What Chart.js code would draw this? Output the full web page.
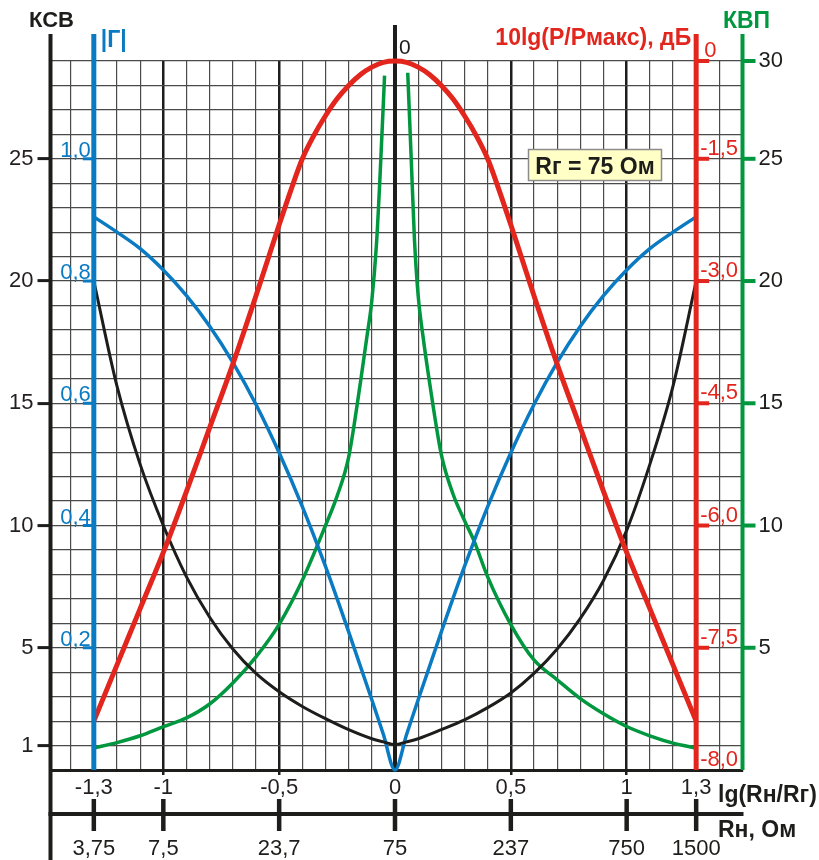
<!DOCTYPE html>
<html><head><meta charset="utf-8">
<style>html,body{margin:0;padding:0;background:#fff}canvas{display:block}</style>
<script src="https://cdn.jsdelivr.net/npm/chart.js@4.4.1/dist/chart.umd.min.js"></script>
</head><body>
<canvas id="c" width="819" height="860"></canvas>
<script>
// ---------------- data ----------------
const lgX = [-1.3,-1.2,-1.1,-1.0,-0.9,-0.8,-0.7,-0.6,-0.5,-0.4,-0.3,-0.2,-0.1,-0.05,0,0.05,0.1,0.2,0.3,0.4,0.5,0.6,0.7,0.8,0.9,1.0,1.1,1.2,1.3];
const kcbValues = [20,15.7,12.5,10.0,7.9,6.25,4.95,3.95,3.2,2.6,2.1,1.65,1.28,1.15,1.04,1.15,1.28,1.65,2.05,2.55,3.15,3.95,4.95,6.2,7.75,9.8,12.5,15.7,20];
const gammaValues = [0.905,0.880,0.853,0.818,0.776,0.726,0.667,0.598,0.519,0.431,0.333,0.226,0.115,0.058,0,0.058,0.115,0.226,0.333,0.431,0.519,0.598,0.667,0.726,0.776,0.818,0.853,0.880,0.905];
const dbX = [-1.3,-1.2,-1.1,-1.0,-0.9,-0.8,-0.7,-0.6,-0.5,-0.45,-0.4,-0.35,-0.3,-0.25,-0.2,-0.15,-0.1,-0.05,0,0.05,0.1,0.15,0.2,0.25,0.3,0.35,0.4,0.45,0.5,0.6,0.7,0.8,0.9,1.0,1.1,1.2,1.3];
const dbValues = [-7.8,-7.57,-7.02,-6.33,-5.58,-4.8,-4.02,-3.18,-2.31,-1.89,-1.5,-1.14,-0.84,-0.58,-0.375,-0.21,-0.094,-0.02,0,-0.02,-0.094,-0.21,-0.375,-0.58,-0.84,-1.14,-1.5,-1.89,-2.31,-3.18,-4.02,-4.8,-5.58,-6.33,-7.02,-7.57,-7.8];
const kvpLeftX = [-1.3,-1.2,-1.1,-1.0,-0.9,-0.8,-0.7,-0.6,-0.5,-0.4,-0.3,-0.25,-0.2,-0.15,-0.12,-0.1,-0.08,-0.065,-0.045];
const kvpLeftY = [0.9,1.12,1.4,1.77,2.13,2.7,3.56,4.63,5.96,7.76,10.0,11.2,12.8,15.8,17.8,19.2,21.5,24.2,29.25];
const kvpRightX = [0.055,0.07,0.084,0.1,0.12,0.15,0.2,0.25,0.3,0.34,0.4,0.5,0.6,0.7,0.8,0.9,1.0,1.1,1.2,1.3];
const kvpRightY = [29.4,25.0,21.7,19.4,17.8,15.8,12.9,11.3,10.2,9.4,7.9,5.95,4.5,3.69,2.92,2.3,1.78,1.4,1.1,0.9];

// ---------------- ticks ----------------
const xTickValues = [-1.3,-1,-0.5,0,0.5,1,1.3];
const xTickLabels = ['-1,3','-1','-0,5','0','0,5','1','1,3'];
const rTickLabels = ['3,75','7,5','23,7','75','237','750','1500'];
const kcbTickValues = [1,5,10,15,20,25];
const gammaTickValues = [0.2,0.4,0.6,0.8,1.0];
const gammaTickLabels = ['0,2','0,4','0,6','0,8','1,0'];
const dbTickValues = [0,-1.5,-3,-4.5,-6,-7.5,-8];
const dbTickLabels = ['0','-1,5','-3,0','-4,5','-6,0','-7,5','-8,0'];
const dbTickAt = [29,25,20,15,10,5,0];          // calibration of the non-linear dB axis (grid units)
const kvpTickValues = [5,10,15,20,25,30];
const kvpTickLabels = ['5','10','15','20','25','30'];
const kvpStopValues = [0,5,10,15,20,25,30];
const kvpStopAt = [0,5,10,15,20,25,29];          // calibration of the КВП axis (grid units)

const FONT = "'Liberation Sans', Arial, sans-serif";
const BLACK = '#1d1d1b', BLUE = '#0a7bc2', RED = '#e3261d', GREEN = '#00973f', GRID = '#4a4a4a';

const PIECEWISE = {
  yDb: [dbTickValues.slice().reverse(), dbTickAt.slice().reverse()],
  yK: [kvpStopValues, kvpStopAt]
};
function interp(v, xs, ys) {
  let i = 0;
  while (i < xs.length - 2 && v > xs[i + 1]) i++;
  const t = (v - xs[i]) / (xs[i + 1] - xs[i]);
  return ys[i] + t * (ys[i + 1] - ys[i]);
}
class PiecewiseScale extends Chart.LinearScale {
  static id = 'piecewise';
  determineDataLimits() { this.min = this.options.min; this.max = this.options.max; }
  buildTicks() { return []; }
  getPixelForValue(v) {
    if (v === null || v === undefined) return NaN;
    const s = PIECEWISE[this.id];
    return super.getPixelForValue(interp(v, s[0], s[1]));
  }
  getValueForPixel(p) {
    const s = PIECEWISE[this.id];
    return interp(super.getValueForPixel(p), s[1], s[0]);
  }
}
Chart.register(PiecewiseScale);

function near(a, b) { return Math.abs(a - b) < 1e-6; }
function idxOf(arr, v) { return arr.findIndex(a => near(a, v)); }
const gridX = []; for (let i = -14; i <= 15; i++) gridX.push(i / 10);
const gridY = []; for (let i = 0; i <= 29; i++) gridY.push(i);
function isMajorX(v) { return near(v * 2, Math.round(v * 2)) && Math.abs(v) < 1.4 && !near(v, 0); }

function pts(xs, ys) { return xs.map((x, i) => ({x, y: ys[i]})); }

function line(ctx, x1, y1, x2, y2, w, c) {
  ctx.beginPath(); ctx.moveTo(x1, y1); ctx.lineTo(x2, y2);
  ctx.lineWidth = w; ctx.strokeStyle = c; ctx.lineCap = 'butt'; ctx.stroke();
}
function txt(ctx, s, x, y, font, color, align, base) {
  ctx.font = font; ctx.fillStyle = color; ctx.textAlign = align || 'left';
  ctx.textBaseline = base || 'alphabetic'; ctx.fillText(s, x, y);
}

const deco = {
  id: 'deco',
  beforeDatasetsDraw(chart) {
    const {ctx, scales: {x, y}} = chart;
    ctx.save();
    const cx = x.getPixelForValue(0);
    line(ctx, cx, 25, cx, y.getPixelForValue(0), 4, BLACK);
    ctx.restore();
  },
  afterDraw(chart) {
    const {ctx, chartArea, scales: {x, y, yG, yDb, yK}} = chart;
    ctx.save();
    const bottom = y.getPixelForValue(0);
    const top = 34;
    const xL = chartArea.left, xB = x.getPixelForValue(-1.3);
    const xRd = x.getPixelForValue(1.3), xGr = x.getPixelForValue(1.5);
    const num = '22px ' + FONT, bold = 'bold 23px ' + FONT;

    // axis lines
    line(ctx, xL, top, xL, 860, 4, BLACK);
    line(ctx, xB, top, xB, bottom, 5, BLUE);
    line(ctx, xRd, top, xRd, bottom, 5, RED);
    line(ctx, xGr, top, xGr, bottom, 4, GREEN);

    // |Г| axis
    gammaTickValues.forEach((v, i) => {
      const py = yG.getPixelForValue(v);
      line(ctx, xB - 11, py, xB, py, 3, BLUE);
      txt(ctx, gammaTickLabels[i], xB - 3, py - 2, num, BLUE, 'right');
    });
    // dB axis
    dbTickValues.forEach((v, i) => {
      const py = yDb.getPixelForValue(v);
      if (v > -8) line(ctx, xRd, py, xRd + 13, py, 4, RED);
      txt(ctx, dbTickLabels[i], xRd + (v === 0 ? 8 : 4), py - 4, num, RED, 'left');
    });
    // КВП axis
    kvpTickValues.forEach((v, i) => {
      const py = yK.getPixelForValue(v);
      line(ctx, xGr, py, xGr + 13, py, 4, GREEN);
      txt(ctx, kvpTickLabels[i], xGr + 16, py, num, BLACK, 'left', 'middle');
    });

    // Rн axis
    const y2 = 814;
    line(ctx, xL - 2, y2, xGr + 1, y2, 4, BLACK);
    xTickValues.forEach((v, i) => {
      const px = x.getPixelForValue(v);
      line(ctx, px, y2 - 15, px, y2 + 17, 4.5, BLACK);
      txt(ctx, rTickLabels[i], px, 855, num, BLACK, 'center');
    });

    // titles
    txt(ctx, 'КСВ', xL + 1, 27, 'bold 22px ' + FONT, BLACK, 'center');
    txt(ctx, '|Г|', xB + 7, 47, bold, BLUE, 'left');
    txt(ctx, '0', x.getPixelForValue(0) + 4, 54, '21px ' + FONT, BLACK, 'left');
    txt(ctx, '10lg(P/Pмакс), дБ', xRd - 5, 45, bold, RED, 'right');
    txt(ctx, 'КВП', xGr + 4, 28, bold, GREEN, 'center');
    txt(ctx, 'lg(Rн/Rг)', 718, 802, bold, BLACK, 'left');
    txt(ctx, 'Rн, Ом', 718, 837, bold, BLACK, 'left');

    // note box
    ctx.fillStyle = '#ffffc6';
    ctx.fillRect(528, 149, 134, 32);
    ctx.lineWidth = 1.5; ctx.strokeStyle = '#8c8c8c';
    ctx.strokeRect(528.5, 149.5, 133, 31);
    txt(ctx, 'Rг = 75 Ом', 595, 174, bold, BLACK, 'center');
    ctx.restore();
  }
};

new Chart(document.getElementById('c'), {
  type: 'line',
  data: {
    datasets: [
      {label: '10lg(P/Pмакс), дБ', data: pts(dbX, dbValues), yAxisID: 'yDb', borderColor: RED, borderWidth: 5},
      {label: 'КСВ', data: pts(lgX, kcbValues), yAxisID: 'y', borderColor: BLACK, borderWidth: 3},
      {label: '|Г|', data: pts(lgX, gammaValues), yAxisID: 'yG', borderColor: BLUE, borderWidth: 3.5},
      {label: 'КВП', data: pts(kvpLeftX, kvpLeftY), yAxisID: 'yK', borderColor: GREEN, borderWidth: 3.5},
      {label: 'КВП ', data: pts(kvpRightX, kvpRightY), yAxisID: 'yK', borderColor: GREEN, borderWidth: 3.5}
    ].map(d => Object.assign(d, {clip: false, fill: false, pointRadius: 0, cubicInterpolationMode: 'monotone'}))
  },
  options: {
    responsive: false, animation: false, devicePixelRatio: 1,
    layout: {padding: {left: 0, right: 76.5, top: 61, bottom: 0}},
    plugins: {legend: {display: false}, tooltip: {enabled: false}},
    scales: {
      x: {
        type: 'linear', min: -1.487, max: 1.5, position: 'bottom',
        afterBuildTicks: s => { s.ticks = gridX.map(v => ({value: v})); },
        afterFit: s => { s.height = 90; },
        ticks: {
          autoSkip: false, maxRotation: 0, minRotation: 0, padding: 0,
          font: {size: 22, family: FONT}, color: '#231f20',
          callback: v => { const i = idxOf(xTickValues, v); return i >= 0 ? xTickLabels[i] : ''; }
        },
        grid: {
          color: c => (near(c.tick.value, 0) || Math.abs(c.tick.value) > 1.45) ? 'rgba(0,0,0,0)' : (isMajorX(c.tick.value) ? BLACK : GRID),
          lineWidth: c => isMajorX(c.tick.value) ? 2.5 : 1.2,
          tickLength: 5,
          tickWidth: 2.5,
          tickColor: c => isMajorX(c.tick.value) ? BLACK : 'rgba(0,0,0,0)'
        },
        border: {display: true, width: 3, color: BLACK}
      },
      y: {
        type: 'linear', min: 0, max: 29, position: 'left',
        afterBuildTicks: s => { s.ticks = gridY.map(v => ({value: v})); },
        afterFit: s => { s.width = 50.5; },
        ticks: {
          autoSkip: false, padding: 4,
          font: {size: 22, family: FONT}, color: '#231f20',
          callback: v => kcbTickValues.includes(v) ? String(v) : ''
        },
        grid: {
          color: GRID, lineWidth: 1.2,
          tickLength: 13, tickWidth: 3,
          tickColor: c => kcbTickValues.includes(c.tick.value) ? BLACK : 'rgba(0,0,0,0)'
        },
        border: {display: false}
      },
      yG: {type: 'linear', min: 0, max: 1.16, display: false},
      yDb: {type: 'piecewise', min: 0, max: 29, display: false},
      yK: {type: 'piecewise', min: 0, max: 29, display: false}
    }
  },
  plugins: [deco]
});
</script>
</body></html>
